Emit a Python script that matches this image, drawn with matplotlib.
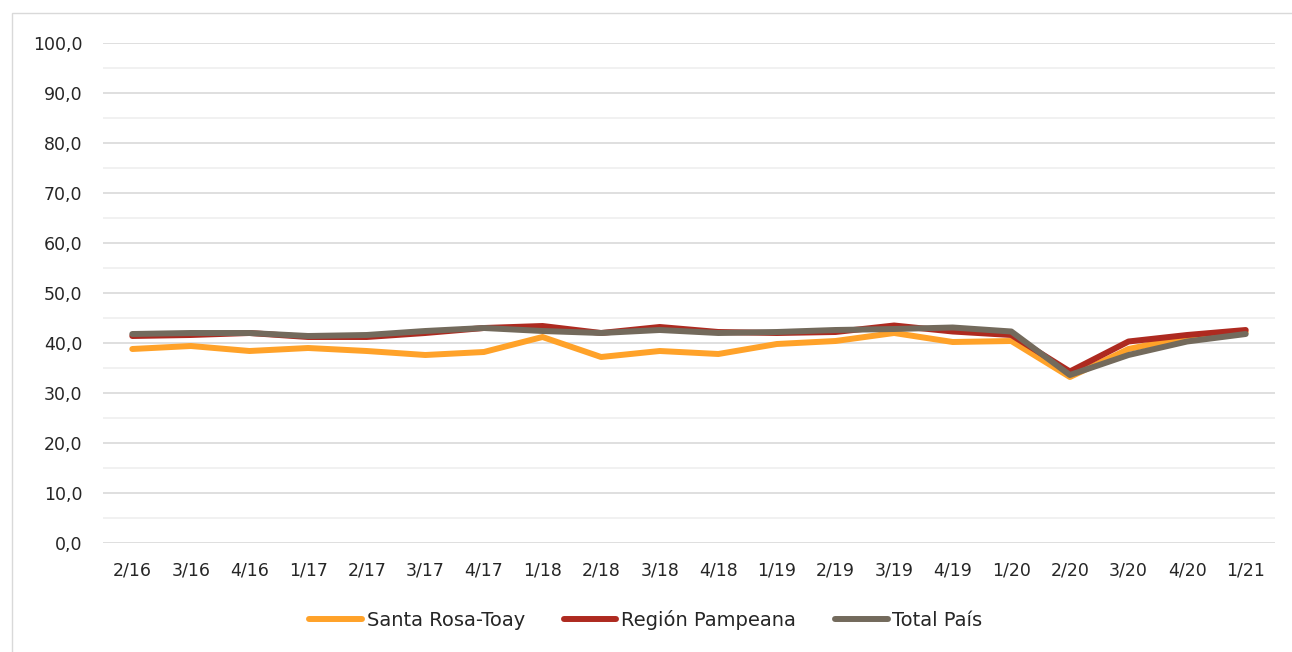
import numpy as np
from matplotlib import pyplot as plt

periods = ['2/16', '3/16', '4/16', '1/17', '2/17', '3/17', '4/17', '1/18', '2/18', '3/18',
           '4/18', '1/19', '2/19', '3/19', '4/19', '1/20', '2/20', '3/20', '4/20', '1/21']

santa_rosa = [38.8, 39.4, 38.4, 39.0, 38.4, 37.6, 38.2, 41.2, 37.2, 38.4,
              37.8, 39.8, 40.4, 42.0, 40.2, 40.4, 33.2, 38.8, 41.2, 42.2]
region_pampeana = [41.4, 41.6, 42.0, 41.2, 41.2, 42.0, 43.0, 43.4, 42.0, 43.2,
                   42.2, 42.0, 42.2, 43.5, 42.3, 41.6, 34.3, 40.3, 41.6, 42.6]
total_pais = [41.8, 42.0, 42.0, 41.4, 41.6, 42.4, 43.0, 42.4, 42.0, 42.6,
              42.0, 42.2, 42.6, 42.8, 43.1, 42.3, 33.6, 37.6, 40.3, 41.8]

plt.rcParams['font.family'] = ['DejaVu Sans']

fig = plt.figure(figsize=(12.92, 6.52), dpi=100)
ax = fig.add_axes([103 / 1292, 1 - 543 / 652, 1172 / 1292, 500 / 652])

x = np.arange(len(periods))
ax.plot(x, santa_rosa, color='#FFA229', lw=4.3, label='Santa Rosa-Toay', solid_capstyle='round')
ax.plot(x, region_pampeana, color='#AE2A20', lw=4.3, label='Región Pampeana', solid_capstyle='round')
ax.plot(x, total_pais, color='#736A5C', lw=4.3, label='Total País', solid_capstyle='round')

ax.set_xlim(-0.5, len(periods) - 0.5)
ax.set_ylim(0, 100)
ax.set_yticks(np.arange(0, 101, 10))
ax.set_yticklabels([f'{v:.1f}'.replace('.', ',') for v in range(0, 101, 10)])
ax.set_yticks(np.arange(5, 100, 10), minor=True)
ax.set_xticks(x)
ax.set_xticklabels(periods)

ax.grid(axis='y', which='major', color='#D9D9D9', lw=1.2)
ax.grid(axis='y', which='minor', color='#EFEFEF', lw=1.2)
ax.set_axisbelow(True)
for s in ax.spines.values():
    s.set_visible(False)
ax.tick_params(axis='both', which='both', length=0, labelsize=12.5, colors='#262626')
ax.tick_params(axis='y', pad=15)
ax.tick_params(axis='x', pad=13)

fig.legend(loc='center', bbox_to_anchor=(0.5, 1 - 620 / 652), ncol=3, frameon=False,
           fontsize=14, handlelength=2.7, handletextpad=0.25, columnspacing=2.0)
for t in fig.legends[0].get_texts():
    t.set_color('#262626')

# borde del area del grafico
fig.patches.append(plt.Rectangle((12 / 1292, -0.01), 1.0, 1 - 13 / 652 + 0.01, transform=fig.transFigure,
                                 fill=False, edgecolor='#D9D9D9', lw=1))

fig.savefig('out.png', dpi=100)
